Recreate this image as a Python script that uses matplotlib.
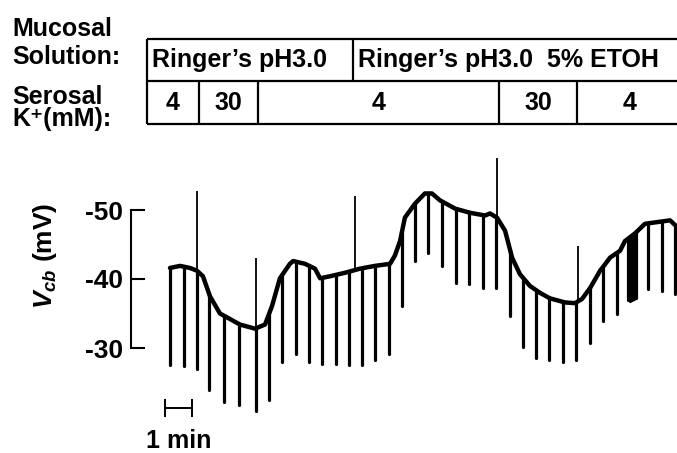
import numpy as np
import matplotlib
matplotlib.use("Agg")
import matplotlib.pyplot as plt

plt.rcParams['font.family'] = ['Liberation Sans', 'DejaVu Sans']
plt.rcParams['font.weight'] = 'bold'
plt.rcParams['mathtext.fontset'] = 'custom'
plt.rcParams['mathtext.it'] = 'Liberation Sans:italic:bold'
plt.rcParams['mathtext.rm'] = 'Liberation Sans:bold'
plt.rcParams['mathtext.bf'] = 'Liberation Sans:bold'

# ---------------- data (time in min, potential in mV) ----------------
base_t = [0.0, 0.37, 0.74, 1.0, 1.22, 1.48, 1.85, 2.22, 2.59, 3.15, 3.52, 3.78,
          4.07, 4.44, 4.56, 5.0, 5.37, 5.56, 5.93, 6.48, 7.04, 7.59, 8.15, 8.33,
          8.52, 8.70, 9.07, 9.44, 9.70, 10.0, 10.56, 11.11, 11.67, 11.85, 12.11,
          12.41, 12.67, 12.96, 13.33, 13.70, 14.07, 14.63, 15.0, 15.26, 15.56,
          15.93, 16.30, 16.67, 16.85, 17.22, 17.59, 17.96, 18.52, 18.74]
base_v = [-41.6, -41.9, -41.6, -41.2, -40.4, -37.5, -35.0, -34.2, -33.4, -32.8,
          -33.4, -36.1, -40.1, -42.2, -42.6, -42.2, -41.5, -40.1, -40.4, -40.9,
          -41.5, -41.9, -42.2, -43.4, -45.5, -48.9, -50.9, -52.4, -52.4, -51.4,
          -50.2, -49.6, -49.2, -49.5, -48.9, -47.0, -43.1, -40.7, -39.0, -38.0,
          -37.2, -36.6, -36.5, -37.1, -38.7, -41.2, -43.1, -44.1, -45.5, -46.6,
          -48.0, -48.2, -48.5, -47.7]

spike_t = [0.0, 0.52, 1.0, 1.44, 2.0, 2.56, 3.19, 3.67, 4.15, 4.67, 5.15, 5.63,
           6.15, 6.63, 7.11, 7.59, 8.11, 8.59, 9.07, 9.56, 10.07, 10.59, 11.07,
           11.59, 12.07, 12.59, 13.07, 13.56, 14.04, 14.56, 15.04, 15.56, 16.04,
           16.56, 16.96, 17.04, 17.11, 17.19, 17.26, 17.7, 18.22, 18.7]
spike_v = [-27.6, -27.4, -26.9, -23.9, -22.2, -21.7, -20.9, -22.5, -28.0, -29.2,
           -28.0, -27.7, -27.7, -27.6, -27.6, -28.3, -29.2, -36.1, -42.6, -43.7,
           -41.9, -39.4, -39.3, -38.7, -38.7, -34.6, -30.2, -28.5, -28.3, -28.0,
           -28.3, -30.7, -33.9, -34.9, -37.0, -36.8, -36.9, -37.1, -37.3, -38.5,
           -38.2, -37.8]

up_t = [1.0, 3.19, 6.85, 12.11, 15.11]
up_v = [-52.8, -43.1, -52.1, -57.5, -44.8]

mucosal_labels = ["Ringer\u2019s pH3.0", "Ringer\u2019s pH3.0  5% ETOH"]
mucosal_edges = [-0.85, 6.78, 19.0]
serosal_labels = ['4', '30', '4', '30', '4']
serosal_edges = [-0.85, 1.07, 3.26, 12.19, 15.07, 19.0]

yticks = [-50, -40, -30]
ytick_labels = ['-50', '-40', '-30']

# ---------------- layout ----------------
W, H = 677, 453
FS = 18
fig = plt.figure(figsize=(W / 100, H / 100), dpi=100)

PX_PER_MIN = 27.0
T0_PX = 170.0
PX_PER_MV = 6.9
Y40_PX = 279.0
xlim = (-T0_PX / PX_PER_MIN, (W - T0_PX) / PX_PER_MIN)
ylim = (-40 + (H - Y40_PX) / PX_PER_MV, -40 - Y40_PX / PX_PER_MV)

ax = fig.add_axes([0, 0, 1, 1])
ax.set_xlim(xlim)
ax.set_ylim(ylim)
ax.patch.set_visible(False)

# trace
ax.plot(base_t, base_v, color='black', lw=3.2, solid_joinstyle='round',
        solid_capstyle='round', zorder=3)
top = np.interp(spike_t, base_t, base_v)
ax.vlines(spike_t, top, spike_v, color='black', lw=2.3, zorder=2,
          capstyle='round')
uptop = np.interp(up_t, base_t, base_v)
ax.vlines(up_t, uptop, up_v, color='black', lw=1.3, zorder=2)

# axis bracket
for s in ['top', 'right', 'bottom']:
    ax.spines[s].set_visible(False)
ax.spines['left'].set_position(('data', (131 - T0_PX) / PX_PER_MIN))
ax.spines['left'].set_bounds(-50, -30)
ax.spines['left'].set_linewidth(1.5)
ax.set_yticks(yticks)
ax.set_yticklabels(ytick_labels)
ax.tick_params(axis='y', direction='in', length=10, width=1.5, pad=6,
               labelsize=FS + 1)
ax.set_xticks([])

fig.text(45 / W, 1 - 256 / H, r'$V_{cb}$ (mV)', rotation=90, ha='center',
         va='center', fontsize=FS + 1)

# overlay: x in minutes, y in pixels (top-down)
ax2 = fig.add_axes([0, 0, 1, 1])
ax2.set_xlim(xlim)
ax2.set_ylim(H, 0)
ax2.axis('off')

# solution table
LW = 1.6
ROW_TOP, ROW_MID, ROW_BOT = 39, 81, 124
ax2.hlines([ROW_TOP, ROW_MID, ROW_BOT], mucosal_edges[0], mucosal_edges[-1],
           color='black', lw=LW)
ax2.vlines(mucosal_edges, ROW_TOP, ROW_MID, color='black', lw=LW)
ax2.vlines(serosal_edges, ROW_MID, ROW_BOT, color='black', lw=LW)
for lab, e0 in zip(mucosal_labels, mucosal_edges[:-1]):
    ax2.text(e0 + 0.17, 67, lab, ha='left', va='baseline', fontsize=FS)
for lab, e0, e1 in zip(serosal_labels, serosal_edges[:-1], serosal_edges[1:]):
    ax2.text((e0 + e1) / 2, 110, lab, ha='center', va='baseline', fontsize=FS)

for txt, yb in [('Mucosal', 36), ('Solution:', 64), ('Serosal', 104),
                ('K\u207a(mM):', 126)]:
    fig.text(12 / W, 1 - yb / H, txt, ha='left', va='baseline', fontsize=FS)

# 1 min scale bar
sb0 = (165 - T0_PX) / PX_PER_MIN
ax2.plot([sb0, sb0 + 1], [408, 408], color='black', lw=1.4)
ax2.vlines([sb0, sb0 + 1], 399, 417, color='black', lw=1.4)
ax2.text(sb0 + 0.5, 448, '1 min', ha='center', va='baseline', fontsize=FS)

fig.savefig('out.png', dpi=100)
